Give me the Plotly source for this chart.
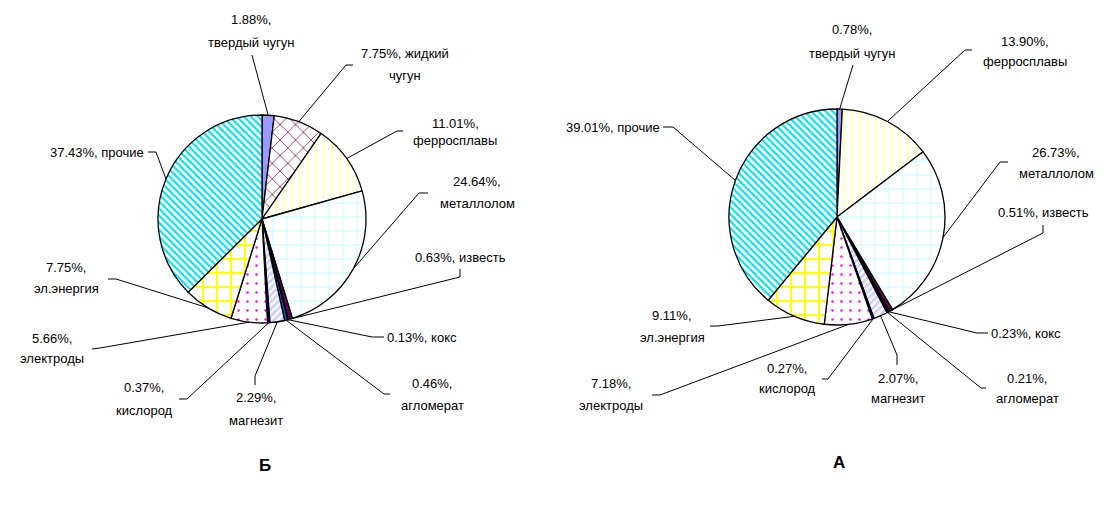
import math
import plotly.graph_objects as go

W, H = 1104, 506

# ---------------- data ----------------
categories_B = ["твердый чугун", "жидкий чугун", "ферросплавы", "металлолом", "известь",
                "кокс", "агломерат", "магнезит", "кислород", "электроды", "эл.энергия", "прочие"]
values_B = [1.88, 7.75, 11.01, 24.64, 0.63, 0.13, 0.46, 2.29, 0.37, 5.66, 7.75, 37.43]

categories_A = ["твердый чугун", "ферросплавы", "металлолом", "известь", "кокс",
                "агломерат", "магнезит", "кислород", "электроды", "эл.энергия", "прочие"]
values_A = [0.78, 13.90, 26.73, 0.51, 0.23, 0.21, 2.07, 0.27, 7.18, 9.11, 39.01]

chart_titles = ["Б", "А"]

# ---------------- styles ----------------
STYLE = {
    "твердый чугун": dict(bg="#9999FF", shape="", fg="#9999FF", size=8, sol=0.3),
    "жидкий чугун": dict(bg="#FFFFFF", shape="x", fg="#993366", size=11, sol=0.16),
    "ферросплавы": dict(bg="#FFFFFF", shape="|", fg="#FFFFC0", size=8, sol=0.3),
    "металлолом": dict(bg="#FFFFFF", shape="+", fg="#C4FCFF", size=14, sol=0.13),
    "известь": dict(bg="#660066", shape="", fg="#660066", size=8, sol=0.3),
    "кокс": dict(bg="#FF8080", shape="", fg="#FF8080", size=8, sol=0.3),
    "агломерат": dict(bg="#0066CC", shape="", fg="#0066CC", size=8, sol=0.3),
    "магнезит": dict(bg="#FFFFFF", shape="/", fg="#CCCCFF", size=5, sol=0.5),
    "кислород": dict(bg="#000080", shape="", fg="#000080", size=8, sol=0.3),
    "электроды": dict(bg="#FFFFFF", shape=".", fg="#FF00FF", size=9, sol=0.06),
    "эл.энергия": dict(bg="#FFFFFF", shape="+", fg="#FFFF00", size=14, sol=0.26),
    "прочие": dict(bg="#FFFFFF", shape="\\", fg="#00E0F0", size=5, sol=0.42),
}

# ---------------- layout (pixel geometry) ----------------
PIE_B = dict(cx=262, cy=219, r=104, title=(265, 465))
PIE_A = dict(cx=837, cy=217, r=108, title=(839, 462))

# label: x, anchor, line ys, words of category on first line, leader points before edge
LAB_B = {
    "твердый чугун": dict(x=251, a="center", ys=[20, 43], k=0, path=[(252, 55)]),
    "жидкий чугун": dict(x=405, a="center", ys=[53, 75], k=1, path=[(353, 65), (346, 65)]),
    "ферросплавы": dict(x=455, a="center", ys=[123, 141], k=0, path=[(403, 131), (397, 131)]),
    "металлолом": dict(x=477, a="center", ys=[182, 203], k=0, path=[(428, 193), (419, 193)]),
    "известь": dict(x=460, a="center", ys=[257], k=1, path=[(460, 269), (460, 277)]),
    "кокс": dict(x=385, a="left", ys=[337], k=1, path=[(384, 337), (372, 337)]),
    "агломерат": dict(x=432, a="center", ys=[383, 405], k=0, path=[(390, 394), (384, 394)]),
    "магнезит": dict(x=256, a="center", ys=[397, 420], k=0, path=[(255, 385), (255, 376)]),
    "кислород": dict(x=144, a="center", ys=[387, 410], k=0, path=[(179, 399), (187, 399)]),
    "электроды": dict(x=52, a="center", ys=[338, 358], k=0, path=[(92, 349), (100, 348)]),
    "эл.энергия": dict(x=66, a="center", ys=[267, 288], k=0, path=[(108, 279), (116, 279)]),
    "прочие": dict(x=146, a="right", ys=[152], k=1, path=[(148, 152), (156, 152)]),
}
LAB_A = {
    "твердый чугун": dict(x=852, a="center", ys=[30, 53], k=0, path=[(853, 65)]),
    "ферросплавы": dict(x=1025, a="center", ys=[42, 62], k=0, path=[(972, 50), (965, 50)]),
    "металлолом": dict(x=1056, a="center", ys=[152, 173], k=0, path=[(1008, 162), (1000, 162)]),
    "известь": dict(x=1043, a="center", ys=[212], k=1, path=[(1043, 225), (1043, 233)]),
    "кокс": dict(x=989, a="left", ys=[333], k=1, path=[(988, 333), (977, 333)]),
    "агломерат": dict(x=1027, a="center", ys=[378, 398], k=0, path=[(986, 388), (981, 388)]),
    "магнезит": dict(x=898, a="center", ys=[378, 398], k=0, path=[(897, 365), (897, 355)]),
    "кислород": dict(x=787, a="center", ys=[368, 388], k=0, path=[(822, 379), (828, 379)]),
    "электроды": dict(x=611, a="center", ys=[383, 405], k=0, path=[(652, 395), (660, 395)]),
    "эл.энергия": dict(x=672, a="center", ys=[315, 337], k=0, path=[(710, 326), (718, 326)]),
    "прочие": dict(x=662, a="right", ys=[127], k=1, path=[(663, 127), (673, 127)]),
}

FONT = dict(family="Liberation Sans, Arial, sans-serif", size=13, color="black")


def px(x):
    return x / W


def py(y):
    return 1 - y / H


fig = go.Figure()
annotations = []
shapes = []

for cats, vals, geo, labs, title in [
    (categories_B, values_B, PIE_B, LAB_B, chart_titles[0]),
    (categories_A, values_A, PIE_A, LAB_A, chart_titles[1]),
]:
    cx, cy, r = geo["cx"], geo["cy"], geo["r"]
    st = [STYLE[c] for c in cats]
    fig.add_trace(go.Pie(
        labels=cats, values=vals, sort=False, direction="clockwise", rotation=0,
        textinfo="none", hoverinfo="label+percent",
        domain=dict(x=[px(cx - r), px(cx + r)], y=[py(cy + r), py(cy - r)]),
        marker=dict(
            colors=[s["bg"] for s in st],
            line=dict(color="black", width=1.3),
            pattern=dict(
                shape=[s["shape"] for s in st],
                fgcolor=[s["fg"] for s in st],
                bgcolor=[s["bg"] for s in st],
                size=[s["size"] for s in st],
                solidity=[s["sol"] for s in st],
            ),
        ),
        showlegend=False,
    ))

    total = sum(vals)
    cum = 0.0
    for c, v in zip(cats, vals):
        theta = math.radians(360.0 * (cum + v / 2.0) / total)
        cum += v
        ex = cx + r * math.sin(theta)
        ey = cy - r * math.cos(theta)
        lab = labs[c]
        pct = f"{v:.2f}%,"
        words = c.split(" ")
        first = " ".join([pct] + words[:lab["k"]])
        rest = " ".join(words[lab["k"]:])
        lines = [first] if not rest else [first, rest]
        for txt, yy in zip(lines, lab["ys"]):
            annotations.append(dict(
                x=px(lab["x"]), y=py(yy), xref="paper", yref="paper",
                text=txt, showarrow=False, xanchor=lab["a"], yanchor="middle",
                font=FONT,
            ))
        pts = lab["path"] + [(ex, ey)]
        d = "M " + " L ".join(f"{px(a):.5f},{py(b):.5f}" for a, b in pts)
        shapes.append(dict(type="path", path=d, xref="paper", yref="paper",
                           line=dict(color="black", width=1)))

    annotations.append(dict(
        x=px(geo["title"][0]), y=py(geo["title"][1]), xref="paper", yref="paper",
        text=f"<b>{title}</b>", showarrow=False, xanchor="center", yanchor="middle",
        font=dict(family="Liberation Sans, Arial, sans-serif", size=17, color="black"),
    ))

fig.update_layout(
    width=W, height=H,
    margin=dict(l=0, r=0, t=0, b=0),
    paper_bgcolor="white", plot_bgcolor="white",
    annotations=annotations, shapes=shapes,
)

fig.write_html("out.html")
